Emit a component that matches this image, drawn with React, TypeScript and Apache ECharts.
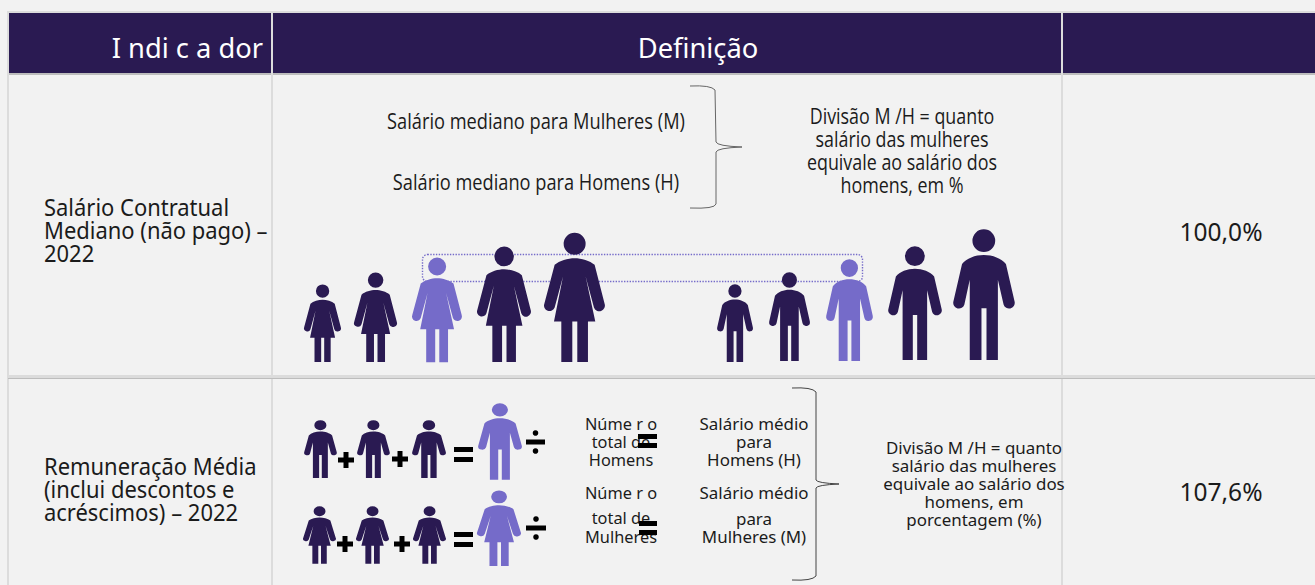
import React, { useEffect, useRef } from "react";
import * as echarts from "echarts";

const headerLabels = ["I ndi c a dor", "Definição"];
const indicatorOne = ["Salário Contratual", "Mediano (não pago) –", "2022"];
const indicatorTwo = ["Remuneração Média", "(inclui descontos e", "acréscimos) – 2022"];
const resultValues = ["100,0%", "107,6%"];
const medianLabels = ["Salário mediano para Mulheres (M)", "Salário mediano para Homens (H)"];
const medianNote = ["Divisão M /H = quanto", "salário das mulheres", "equivale ao salário dos", "homens, em %"];
const countLabelsMen = ["Núme r o", "total de", "Homens"];
const countLabelsWomen = ["Núme r o", "total de", "Mulheres"];
const averageLabelsMen = ["Salário médio", "para", "Homens (H)"];
const averageLabelsWomen = ["Salário médio", "para", "Mulheres (M)"];
const averageNote = ["Divisão M /H = quanto", "salário das mulheres", "equivale ao salário dos", "homens, em", "porcentagem (%)"];

const DARK = "#2A1A52";
const LIGHT = "#756BC9";
const BG = "#F2F2F2";
const LINE = "#DCDCDC";
const LINE_DARK = "#BDBDBD";
const PLEX = "'Noto Sans', Roboto, sans-serif";
const TXT = "#1b1b1b";

const MAN = "M58,35 A34,34 0 1 1 126,35 A34,34 0 1 1 58,35 Z M92,78 C118,78 145,88 158,105 L184,218 A17,17 0 0 1 151,226 L134,152 L134,392 L100,392 L100,237 L85,237 L85,392 L50,392 L50,152 L34,226 A17,17 0 0 1 1,218 L27,105 C40,88 66,78 92,78 Z";
const WOMAN = "M59,35 A33,33 0 1 1 125,35 A33,33 0 1 1 59,35 Z M92,78 C112,78 138,85 152,98 L182,214 A16,16 0 0 1 150,225 L125,133 L154,267 L132,267 L132,388 L100,388 L100,267 L85,267 L85,388 L52,388 L52,267 L30,267 L57,133 L32,225 A16,16 0 0 1 1,214 L32,98 C46,85 72,78 92,78 Z";
const BRACE_ONE = "M690,86 Q711,85 715,90 L716,142 Q717,146 742,147 Q717,148 716,152 L716,204 Q715,209 690,208";
const BRACE_TWO = "M792,388 Q812,387 816,392 L816,480 Q817,483 839,484 Q817,485 816,488 L816,576 Q812,581 792,580";

echarts.graphic.registerShape("man", echarts.graphic.extendPath(MAN, {}) as any);
echarts.graphic.registerShape("woman", echarts.graphic.extendPath(WOMAN, {}) as any);
echarts.graphic.registerShape("braceOne", echarts.graphic.extendPath(BRACE_ONE, {}) as any);
echarts.graphic.registerShape("braceTwo", echarts.graphic.extendPath(BRACE_TWO, {}) as any);

const rect = (x: number, y: number, w: number, h: number, fill: string) => ({
  type: "rect", shape: { x, y, width: w, height: h }, style: { fill }, silent: true,
});
const text = (t: string, x: number, y: number, size: number, align: string, opts: any = {}) => ({
  type: "text", x, y, scaleX: opts.scaleX ?? 1, silent: true,
  style: {
    text: t, x: 0, y: 0, align, verticalAlign: "middle", fontSize: size,
    lineHeight: opts.lineHeight, fontFamily: opts.family ?? PLEX, fill: opts.fill ?? TXT,
  },
});
const block = (lines: string[], x: number, cy: number, size: number, align: string, lineHeight: number, opts: any = {}) =>
  text(lines.join("\n"), x, cy, size, align, { ...opts, lineHeight });
const figure = (kind: "man" | "woman", x0: number, x1: number, y0: number, y1: number, fill: string) => ({
  type: kind, x: x0, y: y0,
  scaleX: (x1 - x0) / (kind === "man" ? 185 : 183),
  scaleY: (y1 - y0) / (kind === "man" ? 392 : 388),
  style: { fill }, silent: true,
});
const plus = (cx: number, cy: number) => [rect(cx - 8, cy - 2.5, 16, 5, "#000"), rect(cx - 2.5, cy - 8, 5, 16, "#000")];
const equals = (x0: number, x1: number, y0: number, y1: number) => [
  rect(x0, y0, x1 - x0, 5, "#000"), rect(x0, y1 - 5, x1 - x0, 5, "#000"),
];
const divide = (x0: number, x1: number, cy: number) => [
  rect(x0, cy - 2.5, x1 - x0, 5, "#000"),
  { type: "circle", shape: { cx: (x0 + x1) / 2, cy: cy - 9, r: 2.8 }, style: { fill: "#000" }, silent: true },
  { type: "circle", shape: { cx: (x0 + x1) / 2, cy: cy + 9, r: 2.8 }, style: { fill: "#000" }, silent: true },
];

function buildElements() {
  const e: any[] = [];
  e.push(rect(0, 0, 1315, 585, BG));
  // header band and grid
  e.push(rect(8, 11, 1307, 2, LINE));
  e.push(rect(9, 13, 1306, 60, DARK));
  e.push(rect(8, 73, 1307, 2, LINE_DARK));
  e.push(rect(7, 11, 2, 574, LINE));
  e.push(rect(271, 11, 2, 574, LINE));
  e.push(rect(1061, 11, 2, 574, LINE));
  e.push(rect(8, 375, 1307, 3, LINE));
  e.push(rect(8, 378, 1307, 1, LINE_DARK));

  e.push(text(headerLabels[0], 263, 47, 27.3, "right", { fill: "#fff" }));
  e.push(text(headerLabels[1], 698, 47, 27.3, "center", { fill: "#fff" }));

  const body = { scaleX: 0.955 };
  e.push(block(indicatorOne, 44, 230, 23, "left", 23, body));
  e.push(block(indicatorTwo, 44, 489, 23, "left", 23, body));
  e.push(text(resultValues[0], 1221, 231, 24.5, "center"));
  e.push(text(resultValues[1], 1221, 491, 24.5, "center"));

  // upper row
  const family = "'Open Sans', sans-serif";
  e.push(text(medianLabels[0], 536, 120.5, 22.5, "center", { family, scaleX: 0.81 }));
  e.push(text(medianLabels[1], 536, 181.5, 22.5, "center", { family, scaleX: 0.81 }));
  e.push(block(medianNote, 902, 150, 22.5, "center", 23, { family, scaleX: 0.795 }));
  e.push({ type: "braceOne", style: { fill: "none", stroke: "#666", lineWidth: 1 }, silent: true });
  e.push({ type: "braceTwo", style: { fill: "none", stroke: "#444", lineWidth: 1 }, silent: true });

  e.push({
    type: "rect", shape: { x: 422.5, y: 254.5, width: 440, height: 27, r: 5 },
    style: { fill: "none", stroke: LIGHT, lineWidth: 1.4, lineDash: [1.4, 1.4] }, silent: true,
  });
  e.push(figure("woman", 304, 341, 284, 362, DARK));
  e.push(figure("woman", 354, 397, 272, 362, DARK));
  e.push(figure("woman", 412, 462, 257, 362, LIGHT));
  e.push(figure("woman", 477, 531, 246, 362, DARK));
  e.push(figure("woman", 544, 605, 232, 362, DARK));
  e.push(figure("man", 717, 753, 284, 362, DARK));
  e.push(figure("man", 769, 810, 272, 361, DARK));
  e.push(figure("man", 826, 873, 259, 361, LIGHT));
  e.push(figure("man", 888, 942, 246, 360, DARK));
  e.push(figure("man", 953, 1015, 229, 360, DARK));

  // lower row
  e.push(figure("man", 304, 337, 420, 478, DARK));
  e.push(figure("man", 357, 390, 420, 478, DARK));
  e.push(figure("man", 412, 446, 420, 478, DARK));
  e.push(figure("man", 478, 522, 403, 480, LIGHT));
  e.push(...plus(346, 460), ...plus(400, 459));
  e.push(...equals(454, 473, 447, 462));
  e.push(...divide(526, 545, 442));

  e.push(figure("woman", 303, 336, 506, 564, DARK));
  e.push(figure("woman", 356, 389, 506, 564, DARK));
  e.push(figure("woman", 413, 446, 506, 564, DARK));
  e.push(figure("woman", 477, 521, 490, 566, LIGHT));
  e.push(...plus(345, 544), ...plus(402, 544));
  e.push(...equals(454, 473, 532, 547));
  e.push(...divide(526, 546, 528));

  const small = { scaleX: 0.985 };
  e.push(block(countLabelsMen, 621, 441.5, 16.6, "center", 18, small));
  e.push(text(countLabelsWomen[0], 621, 492.5, 16.6, "center", small));
  e.push(block(countLabelsWomen.slice(1), 621, 527, 16.6, "center", 19, small));
  e.push(...equals(638, 657, 434, 448));
  e.push(...equals(639, 657, 521, 535));

  const avg = { scaleX: 1.02 };
  e.push(block(averageLabelsMen, 754, 441.5, 16.6, "center", 18, avg));
  e.push(text(averageLabelsWomen[0], 754, 492.5, 16.6, "center", avg));
  e.push(block(averageLabelsWomen.slice(1), 754, 527.5, 16.6, "center", 18, avg));
  e.push(block(averageNote, 974, 483.5, 16.6, "center", 18, avg));
  return e;
}

export default function App() {
  const ref = useRef<HTMLDivElement>(null);
  useEffect(() => {
    document.body.style.margin = "0";
    document.body.style.overflow = "hidden";
    const chart = echarts.init(ref.current!, undefined, { renderer: "svg" });
    chart.setOption({ animation: false, backgroundColor: BG, graphic: { elements: buildElements() } });
    return () => chart.dispose();
  }, []);
  return <div ref={ref} style={{ position: "fixed", left: 0, top: 0, width: 1315, height: 585 }} />;
}
